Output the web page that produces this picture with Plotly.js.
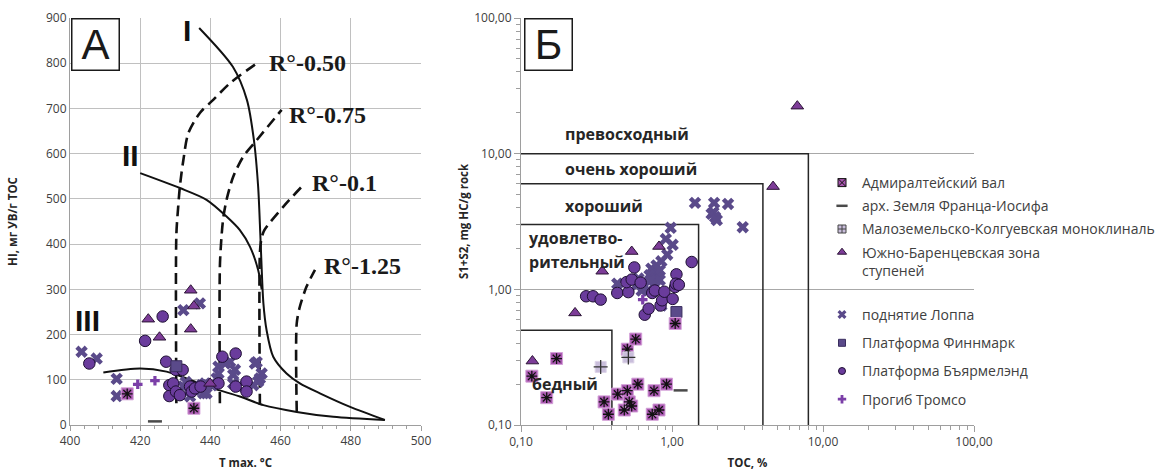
<!DOCTYPE html>
<html><head><meta charset="utf-8">
<script src="https://cdn.plot.ly/plotly-3.0.1.min.js"></script>
<style>html,body{margin:0;padding:0;background:#fff}#chart{width:1162px;height:470px}</style>
</head><body><div id="chart"></div>
<script>
// ---------- Panel A data (Tmax, HI) ----------
const admTmax = [416.3, 435.3];
const admHI   = [69, 37];
const zfiTmax = [424.2];
const zfiHI   = [8];
const yuzTmax = [422.3, 425.5, 434.4, 435.3, 434.4, 439.9];
const yuzHI   = [234, 194, 298, 263, 212, 92];
const lopTmax = [403.3, 407.6, 413.3, 413.3, 432.3, 437.0, 453.2, 432.3, 434.2, 438.0, 437.5, 442.3, 444.2, 445.6, 442.3, 441.8, 446.5, 447.0, 446.5, 447.8, 452.7, 454.6, 454.1, 453.6, 452.2, 438.9, 438.5, 440.4, 433.0, 435.5];
const lopHI   = [162, 147, 102, 64, 254, 269, 139, 85, 63, 70, 88, 129, 136, 140, 114, 103, 111, 122, 92, 85, 136, 114, 103, 96, 88, 70, 92, 88, 95, 78];
const finTmax = [430.3];
const finHI   = [130];
const bjaTmax = [405.5, 421.4, 426.4, 427.4, 430.1, 432.1, 428.3, 429.4, 428.3, 430.2, 431.3, 434.2, 434.7, 435.6, 437.2, 443.4, 442.3, 447.2, 447.2, 450.3, 450.3];
const bjaHI   = [136, 186, 240, 140, 122, 122, 88, 92, 64, 74, 66, 85, 74, 81, 85, 151, 92, 158, 85, 96, 74];
const troTmax = [419.3, 424.2];
const troHI   = [90, 98];

// ---------- Panel B data (TOC, S1+S2) ----------
const admTOC = [0.172, 0.148, 0.118, 0.355, 0.379, 0.437, 0.483, 0.506, 0.521, 0.541, 0.506, 0.575, 0.594, 0.74, 0.76, 0.82, 0.92, 1.05];
const admS   = [0.309, 0.159, 0.229, 0.148, 0.120, 0.169, 0.129, 0.179, 0.148, 0.138, 0.362, 0.43, 0.20, 0.12, 0.179, 0.129, 0.20, 0.56];
const zfiTOC = [1.14];
const zfiS   = [0.18];
const malTOC = [0.337, 0.514];
const malS   = [0.268, 0.315];
const yuzTOC = [0.119, 0.228, 0.345, 0.541, 0.82, 6.76, 4.67];
const yuzS   = [0.296, 0.67, 1.36, 1.90, 2.07, 22.4, 5.72];
const lopTOC = [1.42, 1.90, 2.35, 1.88, 1.83, 1.93, 1.98, 2.94, 0.98, 0.91, 1.01, 0.93, 0.85, 0.79, 0.73, 0.77, 0.83, 0.71, 0.79, 0.83, 0.77, 0.65, 0.58, 0.434, 0.60, 0.70, 0.85, 0.72, 0.63];
const lopS   = [4.34, 4.34, 4.26, 3.70, 3.60, 3.41, 3.24, 2.87, 2.84, 2.35, 2.13, 1.80, 1.61, 1.50, 1.42, 1.34, 1.38, 1.27, 1.20, 1.17, 1.04, 1.04, 1.07, 1.10, 1.20, 0.99, 0.76, 1.17, 0.98];
const finTOC = [1.07];
const finS   = [0.68];
const bjaTOC = [0.27, 0.30, 0.337, 0.434, 0.514, 0.50, 0.541, 0.563, 0.62, 0.66, 0.70, 0.74, 0.77, 0.84, 0.86, 0.89, 1.01, 1.05, 1.07, 1.06, 1.11, 1.35];
const bjaS   = [0.889, 0.889, 0.84, 0.94, 0.954, 1.13, 1.18, 1.45, 1.12, 0.65, 0.72, 0.94, 0.98, 0.76, 0.83, 0.96, 0.85, 1.04, 1.29, 1.10, 1.08, 1.59];
const troTOC = [0.64];
const troS   = [0.84];

// ---------- Panel A curves ----------
const curveI_T  = [436.8, 446.4, 450.4, 452.4, 453.6, 454.2, 454.4, 455.1, 456.0, 457.9, 461.7, 465.5, 471.2, 479.8, 489.7];
const curveI_HI = [878, 792, 719, 630, 527, 425, 387, 269, 210, 151, 114, 92, 70, 40, 11];
const curveII_T  = [420.0, 431.3, 438.9, 444.6, 448.4, 451.3, 453.6, 454.6];
const curveII_HI = [557, 524, 498, 461, 431, 394, 343, 300];
const curveIII_T  = [409.5, 420.0, 427.5, 433.2, 440.8, 448.4, 455.1, 464.6, 475.0, 489.7];
const curveIII_HI = [116, 125, 118, 103, 81, 63, 44, 29, 18, 11];
const r050_T  = [430.3, 430.3, 430.8, 431.3, 432.3, 433.7, 437.0, 440.8, 445.6, 452.7];
const r050_HI = [48, 420, 480, 527, 586, 645, 690, 719, 756, 797];
const r075_T  = [442.7, 442.7, 443.2, 443.7, 444.6, 446.5, 449.4, 453.2, 460.3];
const r075_HI = [48, 350, 420, 460, 498, 549, 594, 630, 697];
const r010_T  = [454.1, 454.1, 454.5, 455.3, 460.8, 466.5];
const r010_HI = [44, 380, 410, 430, 483, 531];
const r125_T  = [464.6, 464.6, 465.5, 467.4, 469.8];
const r125_HI = [29, 225, 262, 306, 343];

// ---------- Panel B class limits ----------
const classNames = ['бедный', 'удовлетво-', 'рительный', 'хороший', 'очень хороший', 'превосходный'];
const tocLimits = [0.4, 1.5, 4, 8];
const s12Limits = [0.5, 3, 6, 10];

const seriesNames = ['Адмиралтейский вал', 'арх. Земля Франца-Иосифа', 'Малоземельско-Колгуевская моноклиналь',
  'Южно-Баренцевская зона<br>ступеней', 'поднятие Лоппа', 'Платформа Финнмарк', 'Платформа Бъярмелэнд', 'Прогиб Тромсо'];

const traces = [];
function pt(x, y, ax, marker) {
  traces.push({type:'scatter', mode:'markers', x:x, y:y, xaxis:ax[0], yaxis:ax[1], marker:marker,
    showlegend:false, hoverinfo:'skip', cliponaxis:false});
}
const mk = {
  admBase: {symbol:'square', size:12, color:'#a957b0', line:{color:'#d3a0d8', width:1}},
  admOver: {symbol:'asterisk-open', size:9, color:'#111111', line:{color:'#111111', width:1.3}},
  zfi: {symbol:'line-ew-open', size:10, color:'#4a4a4a', line:{color:'#4a4a4a', width:2.5}},
  malBase: {symbol:'square', size:11, color:'#c9bedb', line:{color:'#ddd4e8', width:1}},
  malOver: {symbol:'cross-thin-open', size:10, color:'#333333', line:{color:'#333333', width:1.3}},
  yuz: {symbol:'triangle-up', size:11, color:'#7d3c98', line:{color:'#2b1436', width:1}},
  lop: {symbol:'x', size:11, color:'#5a4a8a', line:{width:0}},
  fin: {symbol:'square', size:11, color:'#5a4a8a', line:{color:'#3a2e5e', width:1}},
  bja: {symbol:'circle', size:11.5, color:'#6a3c9c', line:{color:'#1e0f33', width:1}},
  tro: {symbol:'cross', size:8, color:'#7b3fa8', line:{width:0}}
};
// smaller symbols used only in the legend
const lg = {
  adm: {symbol:'square-x', size:8, color:'#a957b0', line:{color:'#111111', width:1}},
  zfi: {symbol:'line-ew-open', size:8, color:'#4a4a4a', line:{color:'#4a4a4a', width:2.5}},
  mal: {symbol:'square-cross', size:8, color:'#c9bedb', line:{color:'#444444', width:1}},
  yuz: {symbol:'triangle-up', size:8, color:'#7d3c98', line:{color:'#2b1436', width:1}},
  lop: {symbol:'x', size:8, color:'#5a4a8a', line:{width:0}},
  fin: {symbol:'square', size:7, color:'#5a4a8a', line:{color:'#3a2e5e', width:1}},
  bja: {symbol:'circle', size:7, color:'#6a3c9c', line:{color:'#1e0f33', width:1}},
  tro: {symbol:'cross', size:7, color:'#7b3fa8', line:{width:0}}
};
const A = ['x','y'], B = ['x2','y2'];

// curves panel A
function curve(x, y, dash, w) {
  traces.push({type:'scatter', mode:'lines', x:x, y:y, xaxis:'x', yaxis:'y', showlegend:false, hoverinfo:'skip',
    line:{color:'#111111', width:w, dash:dash, shape:'spline', smoothing:0.8}});
}
curve(curveI_T, curveI_HI, 'solid', 2);
curve(curveII_T, curveII_HI, 'solid', 2);
curve(curveIII_T, curveIII_HI, 'solid', 2);
curve(r050_T, r050_HI, '11px,6px', 2.6);
curve(r075_T, r075_HI, '11px,6px', 2.6);
curve(r010_T, r010_HI, '11px,6px', 2.6);
curve(r125_T, r125_HI, '11px,6px', 2.6);

// class boxes panel B
for (let i = 0; i < tocLimits.length; i++) {
  traces.push({type:'scatter', mode:'lines', xaxis:'x2', yaxis:'y2', showlegend:false, hoverinfo:'skip',
    x:[0.1, tocLimits[i], tocLimits[i]], y:[s12Limits[i], s12Limits[i], 0.1],
    line:{color:'#262626', width:1.5}});
}

// Panel A points
pt(lopTmax, lopHI, A, mk.lop);
pt(bjaTmax, bjaHI, A, mk.bja);
pt(finTmax, finHI, A, mk.fin);
pt(yuzTmax, yuzHI, A, mk.yuz);
pt(troTmax, troHI, A, mk.tro);
pt(admTmax, admHI, A, mk.admBase);
pt(admTmax, admHI, A, mk.admOver);
pt(zfiTmax, zfiHI, A, mk.zfi);

// Panel B points
pt(lopTOC, lopS, B, mk.lop);
pt(bjaTOC, bjaS, B, mk.bja);
pt(finTOC, finS, B, mk.fin);
pt(yuzTOC, yuzS, B, mk.yuz);
pt(troTOC, troS, B, mk.tro);
pt(admTOC, admS, B, mk.admBase);
pt(admTOC, admS, B, mk.admOver);
pt(malTOC, malS, B, mk.malBase);
pt(malTOC, malS, B, mk.malOver);
pt(zfiTOC, zfiS, B, mk.zfi);

// legend entries (no visible points of their own)
const legMarkers = [lg.adm, lg.zfi, lg.mal, lg.yuz, lg.lop, lg.fin, lg.bja, lg.tro];
seriesNames.forEach((nm, i) => {
  traces.push({type:'scatter', mode:'markers', x:[null], y:[null], xaxis:'x2', yaxis:'y2', name:nm, marker:legMarkers[i],
    showlegend:true, legend: i < 4 ? 'legend' : 'legend2', legendgroup:'g' + i, legendrank:i + 1, hoverinfo:'skip'});
});

const W = 1162, H = 470;
const yDom = [45/H, 452/H];
const tickFont = {family:'Open Sans', size:12, color:'#404040'};
const titleFont = {family:'Open Sans', size:11.5, color:'#262626', weight:'bold'};
const axGrey = '#9e9e9e', gridGrey = '#c0c0c0';

const ann = [];
function txt(text, x, y, xref, yref, font, xanchor) {
  ann.push({text:text, x:x, y:y, xref:xref, yref:yref, showarrow:false, font:font, xanchor:xanchor||'left', yanchor:'middle'});
}
const rFont = {family:'Liberation Serif', size:24, color:'#1a1a1a', weight:'bold'};
txt('R°-0.50', 456.1, 801, 'x', 'y', rFont);
txt('R°-0.75', 461.9, 686, 'x', 'y', rFont);
txt('R°-0.1', 468.4, 536, 'x', 'y', rFont);
txt('R°-1.25', 471.7, 352, 'x', 'y', rFont);
const romFont = {family:'Liberation Sans', size:30, color:'#111111', weight:'bold'};
txt('I', 433.3, 872, 'x', 'y', romFont, 'center');
txt('II', 417.2, 597, 'x', 'y', romFont, 'center');
txt('III', 405.0, 230, 'x', 'y', romFont, 'center');
const clsFont = {family:'Open Sans', size:16, color:'#262626', weight:'bold'};
txt(classNames[5], Math.log10(0.19), Math.log10(14.0), 'x2', 'y2', clsFont);
txt(classNames[4], Math.log10(0.19), Math.log10(7.76), 'x2', 'y2', clsFont);
txt(classNames[3], Math.log10(0.19), Math.log10(4.08), 'x2', 'y2', clsFont);
txt(classNames[1], Math.log10(0.11), Math.log10(2.37), 'x2', 'y2', clsFont);
txt(classNames[2], Math.log10(0.11), Math.log10(1.58), 'x2', 'y2', clsFont);
txt(classNames[0], Math.log10(0.115), Math.log10(0.2), 'x2', 'y2', clsFont);
// panel letters
function box(letter, left) {
  ann.push({text:letter, xref:'paper', yref:'paper', x:left/W, y:1-18/H, xanchor:'left', yanchor:'top', showarrow:false,
    width:46, height:50, borderwidth:1.5, bordercolor:'#1a1a1a', bgcolor:'#ffffff', borderpad:0,
    font:{family:'Liberation Sans', size:42, color:'#1a1a1a'}});
}
box('А', 71);
box('Б', 524);

const legFont = {family:'Open Sans', size:14, color:'#404040'};
const layout = {
  width:W, height:H, margin:{l:0, r:0, t:0, b:0}, paper_bgcolor:'#ffffff', plot_bgcolor:'rgba(0,0,0,0)',
  separators:', ', font:{family:'Open Sans', size:12, color:'#404040'},
  showlegend:true,
  legend:{x:822/W, y:1-167/H, xanchor:'left', yanchor:'top', bgcolor:'rgba(0,0,0,0)', borderwidth:0,
    font:legFont, traceorder:'grouped', tracegroupgap:2, valign:'top', itemwidth:30},
  legend2:{x:822/W, y:1-299/H, xanchor:'left', yanchor:'top', bgcolor:'rgba(0,0,0,0)', borderwidth:0,
    font:legFont, traceorder:'grouped', tracegroupgap:7, valign:'top', itemwidth:30},
  xaxis:{domain:[70/W, 421/W], range:[400, 500], tick0:400, dtick:20, showgrid:true, gridcolor:gridGrey, gridwidth:1,
    showline:true, linecolor:axGrey, linewidth:1, ticks:'outside', ticklen:5, tickcolor:axGrey, zeroline:false,
    minor:{dtick:4, ticks:'outside', ticklen:3, tickcolor:axGrey, showgrid:false},
    tickfont:tickFont, anchor:'y', title:{text:'T max. °C', font:titleFont, standoff:12}},
  yaxis:{domain:yDom, range:[0, 900], dtick:100, showgrid:true, gridcolor:gridGrey, gridwidth:1,
    showline:true, linecolor:axGrey, linewidth:1, ticks:'', zeroline:false, tickfont:tickFont, anchor:'x',
    title:{text:'HI, мг УВ/г ТОС', font:titleFont, standoff:25}},
  xaxis2:{domain:[521/W, 974/W], type:'log', range:[-1, 2], dtick:1, tickformat:'.2f', showgrid:false,
    showline:true, linecolor:axGrey, linewidth:1, ticks:'outside', ticklen:6, tickcolor:axGrey, zeroline:false,
    minor:{ticks:'outside', ticklen:4, tickcolor:axGrey, showgrid:false},
    tickfont:tickFont, anchor:'y2', title:{text:'TOC, %', font:titleFont, standoff:12}},
  yaxis2:{domain:yDom, type:'log', range:[-1, 2], dtick:1, tickformat:'.2f', showgrid:true, gridcolor:'#a8a8a8', gridwidth:1,
    showline:true, linecolor:axGrey, linewidth:1, ticks:'outside', ticklen:6, tickcolor:axGrey, zeroline:false,
    minor:{ticks:'outside', ticklen:4, tickcolor:axGrey, showgrid:false},
    tickfont:tickFont, anchor:'x2', title:{text:'S1+S2, mg HC/g rock', font:titleFont, standoff:3}},
  annotations:ann
};
Plotly.newPlot('chart', traces, layout, {staticPlot:true, displayModeBar:false});
</script></body></html>
